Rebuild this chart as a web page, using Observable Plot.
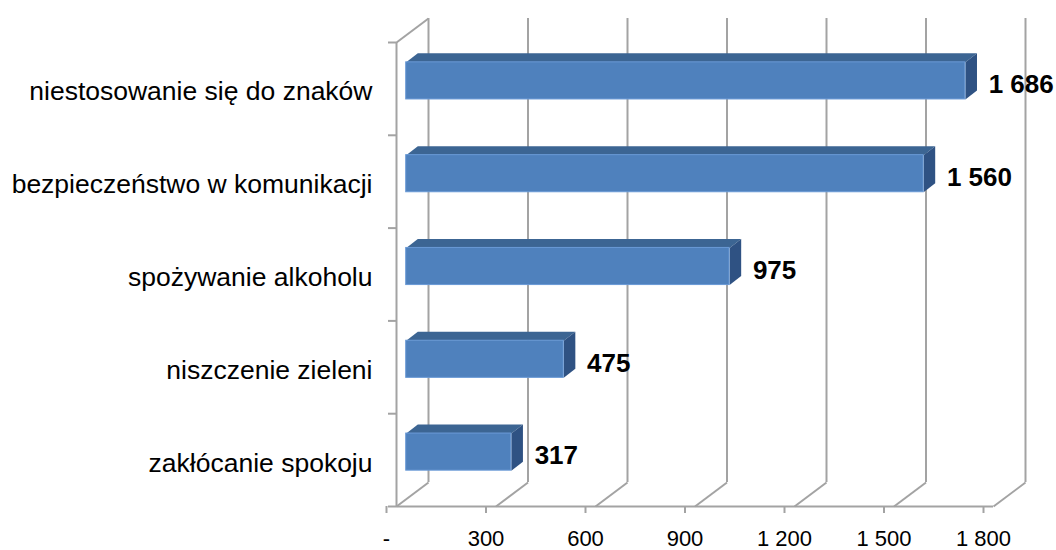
<!DOCTYPE html>
<html>
<head>
<meta charset="utf-8">
<script src="https://cdn.jsdelivr.net/npm/d3@7"></script>
<script src="https://cdn.jsdelivr.net/npm/@observablehq/plot@0.6"></script>
<style>
  html, body { margin: 0; padding: 0; background: #fff; }
  #chart { width: 1056px; height: 550px; }
</style>
</head>
<body>
<div id="chart"></div>
<script>
// ---- data (bottom to top) ----
const categories = ["zakłócanie spokoju", "niszczenie zieleni", "spożywanie alkoholu", "bezpieczeństwo w komunikacji", "niestosowanie się do znaków"];
const values = [317, 475, 975, 1560, 1686];
const xTicks = [0, 300, 600, 900, 1200, 1500, 1800];

// ---- layout ----
const W = 1056, H = 550;
const mL = 396, mR = 63, mT = 42, mB = 44;
const xMax = 1800, yMax = categories.length;
const pxX = xMax / (W - mL - mR);   // data units per pixel (x)
const pxY = yMax / (H - mT - mB);   // data units per pixel (y)
const off = (dx, dy) => [dx * pxX, -dy * pxY];

const wall = [32, -24];          // depth of the 3D box in pixels
const barFront = [9.7, -8];      // front face offset of bars
const barBack = [21.3, -17];     // back face offset of bars
const halfH = 0.2;               // half bar height (band units)

const gray = "#a3a3a3";
const cFront = "#4F81BD", cTop = "#3C6593", cSide = "#2F5283";

const fmt = v => v === 0 ? "-" : d3.format(",")(v).replace(/,/g, " ");

const bars = categories.map((c, i) => ({c, v: values[i], yc: i + 0.5}));

const [fx, fy] = off(...barFront);
const [bx, by] = off(...barBack);
const [wx, wy] = off(...wall);

const topPts = bars.flatMap(d => {
  const t = d.yc + halfH;
  return [
    {c: d.c, x: 0 + fx, y: t + fy},
    {c: d.c, x: d.v + fx, y: t + fy},
    {c: d.c, x: d.v + bx, y: t + by},
    {c: d.c, x: 0 + bx, y: t + by}
  ];
});
const sidePts = bars.flatMap(d => {
  const t = d.yc + halfH, b = d.yc - halfH;
  return [
    {c: d.c, x: d.v + fx, y: t + fy},
    {c: d.c, x: d.v + bx, y: t + by},
    {c: d.c, x: d.v + bx, y: b + by},
    {c: d.c, x: d.v + fx, y: b + fy}
  ];
});

const chart = Plot.plot({
  width: W, height: H,
  marginLeft: mL, marginRight: mR, marginTop: mT, marginBottom: mB,
  style: {fontFamily: "'Liberation Sans', Arial, sans-serif", background: "#fff", color: "#000", overflow: "visible"},
  x: {domain: [0, xMax], axis: null},
  y: {domain: [0, yMax], axis: null},
  marks: [
    // back wall gridlines
    Plot.ruleX(xTicks, {x: d => d, y1: 0, y2: yMax, dx: wall[0], dy: wall[1], stroke: gray, strokeWidth: 2}),
    // floor diagonals
    Plot.link(xTicks, {x1: d => d, y1: 0, x2: d => d + wx, y2: wy, stroke: gray, strokeWidth: 2}),
    // left wall: top diagonal and front edge
    Plot.link([0], {x1: 0, y1: yMax, x2: wx, y2: yMax + wy, stroke: gray, strokeWidth: 2}),
    Plot.ruleX([0], {y1: 0, y2: yMax, stroke: gray, strokeWidth: 2}),
    // front axis line
    Plot.ruleY([0], {x1: 0, x2: xMax, stroke: gray, strokeWidth: 2}),
    // axes
    Plot.axisX(xTicks, {tickSize: 7, tickPadding: 17, tickFormat: fmt, dx: -10, fontSize: 22, stroke: gray, strokeWidth: 2, fill: "#000"}),
    Plot.axisY(d3.range(0, yMax + 1), {tickSize: 8, tickFormat: () => "", stroke: gray, strokeWidth: 2}),
    Plot.axisY(bars.map(d => d.yc), {tickSize: 0, tickPadding: 24, dy: 3, tickFormat: (d, i) => categories[Math.floor(d)], fontSize: 26.5, fill: "#000"}),
    // bars
    Plot.line(topPts, {x: "x", y: "y", z: "c", fill: cTop, stroke: "none"}),
    Plot.line(sidePts, {x: "x", y: "y", z: "c", fill: cSide, stroke: "none"}),
    Plot.rect(bars, {x1: 0, x2: "v", y1: d => d.yc - halfH, y2: d => d.yc + halfH, dx: barFront[0], dy: barFront[1], fill: cFront, stroke: "#6a9ad6", strokeWidth: 1}),
    // value labels
    Plot.text(bars, {x: "v", y: "yc", text: d => fmt(d.v), textAnchor: "start", dx: 33, dy: -4, fontSize: 26, fontWeight: "bold", fill: "#000"})
  ]
});
document.getElementById("chart").appendChild(chart);
</script>
</body>
</html>
